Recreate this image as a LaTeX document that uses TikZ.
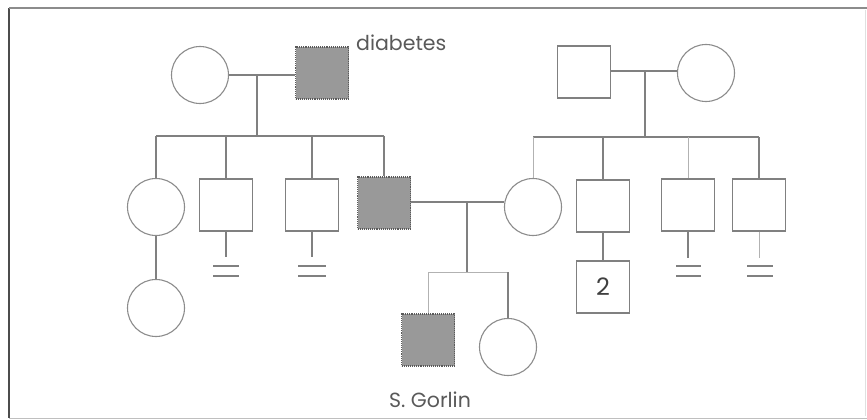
\documentclass[tikz,border=0pt]{standalone}
\usepackage{fontspec}
\setmainfont{Poppins}
\begin{document}
\begin{tikzpicture}[x=1pt,y=-1pt,
  ln/.style={draw=black!50,line width=1.1pt},
  faint/.style={draw=black!30,line width=1pt},
  male/.style={rectangle,draw=black!50,line width=1.1pt,minimum width=53pt,minimum height=52pt,inner sep=0pt,fill=white},
  female/.style={circle,draw=black!45,line width=1.1pt,minimum size=57pt,inner sep=0pt,fill=white},
  aff/.style={male,fill=black!40,draw=black!65,densely dotted},
  lbl/.style={text=black!65,font=\fontsize{20.5}{22}\selectfont,inner sep=0pt}]
\useasboundingbox (0,0) rectangle (867,420);
% frame
\draw[black!70,line width=1.3pt] (9,8) -- (9,418);
\draw[black!45,line width=1.1pt] (9,8) -- (867,8);
\draw[black!25,line width=1pt] (9,418) -- (867,418);
\draw[black!12,line width=1pt] (865,10) -- (865,416);
% generation I
\node[female] (gm1) at (200,75) {};
\node[aff] (gp1) at (322,73) {};
\node[lbl,anchor=base west] (diab) at (356,51) {diabetes};
\node[male] (gp2) at (584,72) {};
\node[female] (gm2) at (706,73) {};
% generation II
\node[female] (c1) at (156,207) {};
\node[male] (c2) at (226,205) {};
\node[male] (c3) at (312,205) {};
\node[aff] (c4) at (384,203) {};
\node[female] (w) at (533,207) {};
\node[male] (r1) at (603,206) {};
\node[male] (r2) at (688,205) {};
\node[male] (r3) at (759,205) {};
% generation III
\node[female] (gc) at (156,308) {};
\node[male,text=black!75,font=\fontsize{24}{24}\selectfont] (g2) at (603,287) {2};
\node[aff] (sg) at (428,340) {};
\node[female] (sis) at (508,347) {};
\node[lbl] (sgl) at (430,400) {S. Gorlin};
% coordinates
\coordinate (m1) at (257,75);
\coordinate (s1) at (257,136);
\coordinate (m2) at (645,71);
\coordinate (s2) at (645,137);
\coordinate (m3) at (467,202);
\coordinate (s3) at (467,272);
% left family
\draw[ln] (gm1.east |- m1) -- (gp1.west |- m1);
\draw[ln] (m1) -- (s1);
\draw[ln] (c1.center |- s1) -- (c4.center |- s1);
\draw[ln] (c1.center |- s1) -- (c1.north);
\draw[ln] (c2.center |- s1) -- (c2.north);
\draw[ln] (c3.center |- s1) -- (c3.north);
\draw[ln] (c4.center |- s1) -- (c4.north);
\draw[ln] (c1.south) -- (gc.north);
% no issue marks
\coordinate (n2) at (226,257);
\coordinate (n3) at (312,257);
\draw[ln] (c2.south) -- (n2);
\draw[ln] (c3.south) -- (n3);
\draw[ln] ([xshift=-13pt,yshift=-9pt]n2) -- ++(26,0) ([xshift=-13pt,yshift=-19pt]n2) -- ++(26,0);
\draw[ln] ([xshift=-14pt,yshift=-9pt]n3) -- ++(28,0) ([xshift=-14pt,yshift=-19pt]n3) -- ++(28,0);
% right family
\draw[ln] (gp2.east |- m2) -- (gm2.west |- m2);
\draw[ln] (m2) -- (s2);
\draw[ln] (w.center |- s2) -- (r3.center |- s2);
\draw[faint] (w.center |- s2) -- (w.north);
\draw[ln] (r1.center |- s2) -- (r1.north);
\draw[faint] (r2.center |- s2) -- (r2.north);
\draw[ln] (r3.center |- s2) -- (r3.north);
\draw[ln] (r1.south) -- (g2.north);
\coordinate (n4) at (688,258);
\coordinate (n5) at (759,258);
\draw[ln] (r2.south) -- (n4);
\draw[faint] (r3.south) -- (n5);
\draw[ln] ([xshift=-12pt,yshift=-8pt]n4) -- ++(25,0) ([xshift=-12pt,yshift=-18pt]n4) -- ++(25,0);
\draw[ln] ([xshift=-12pt,yshift=-8pt]n5) -- ++(26,0) ([xshift=-12pt,yshift=-18pt]n5) -- ++(26,0);
% union of II
\draw[ln] (c4.east |- m3) -- (w.west |- m3);
\draw[ln] (m3) -- (s3);
\draw[faint] (sg.center |- s3) -- (sis.center |- s3);
\draw[faint] (sg.center |- s3) -- (sg.north);
\draw[ln] (sis.center |- s3) -- (sis.north);
\end{tikzpicture}
\end{document}
